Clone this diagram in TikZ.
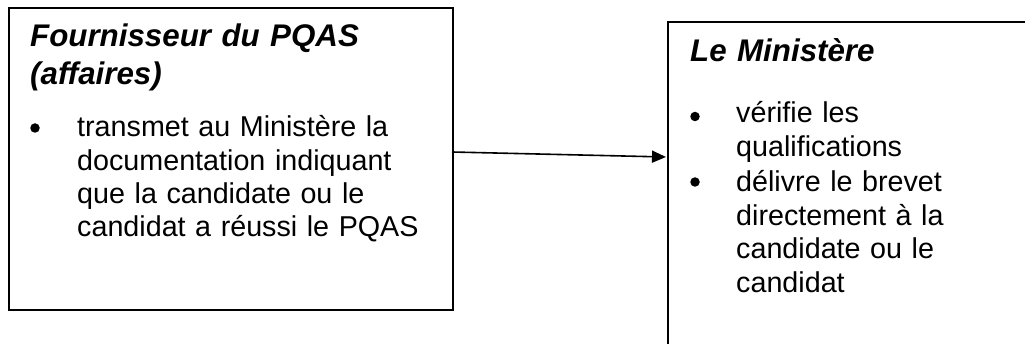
\documentclass[tikz,border=0pt]{standalone}
\usepackage{fontspec}
\setmainfont{Liberation Sans}
\usetikzlibrary{arrows.meta}
\tikzset{
  box/.style={draw=black, line width=2pt, anchor=north west, inner sep=0pt},
  title/.style={anchor=base west, inner sep=0pt, align=left, text width=400pt,
    font=\fontsize{31.3pt}{38.3pt}\selectfont\bfseries\itshape},
  body/.style={anchor=base west, inner sep=0pt, align=left, text width=400pt,
    font=\fontsize{28.7pt}{33.4pt}\selectfont},
  bullet/.style={circle, fill=black, inner sep=0pt, minimum size=9.5pt},
  conn/.style={line width=1.6pt, -{Triangle[length=14pt, width=12pt]}}
}
\begin{document}
\begin{tikzpicture}[x=1pt, y=-1pt]
\useasboundingbox (0,0) rectangle (1025,344);
\clip (0,0) rectangle (1025,344);
\fill[white] (0,0) rectangle (1025,344);
% left box
\node[box, minimum width=444pt, minimum height=302pt] (L) at (8,7) {};
\node[title] (Lt) at (30,46.7) {Fournisseur du PQAS\\(affaires)};
\node[bullet] (Lb1) at (35,128) {};
\node[body] (Lx) at (77,136.7) {transmet au Ministère la\\documentation indiquant\\que la candidate ou le\\candidat a réussi le PQAS};
% right box (runs off the page)
\node[box, minimum width=400pt, minimum height=360pt] (R) at (667,21) {};
\node[title] (Rt) at (690,61.7) {Le Ministère};
\node[bullet] (Rb1) at (695,116.5) {};
\node[body] (Rx1) at (736,123) {vérifie les\\qualifications};
\node[bullet] (Rb2) at (695,182) {};
\node[body] (Rx2) at (736,192) {délivre le brevet\\directement à la\\candidate ou le\\candidat};
% connector
\coordinate (a) at (452,152);
\coordinate (b) at (666,157);
\draw[conn] (a) -- (b);
\end{tikzpicture}
\end{document}
